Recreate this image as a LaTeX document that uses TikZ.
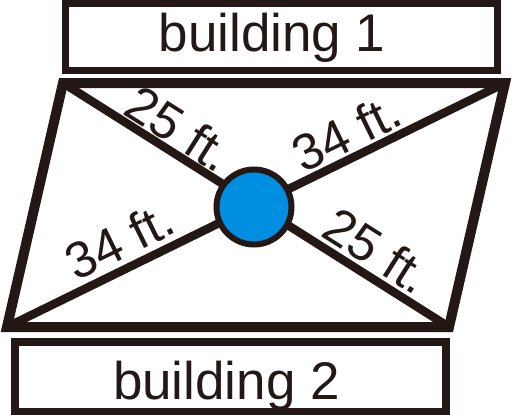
\documentclass[tikz,border=0pt]{standalone}
\usepackage{fontspec}
\setmainfont{Liberation Sans}
\definecolor{ink}{HTML}{231815}
\definecolor{hubblue}{RGB}{0,142,224}
\begin{document}
\begin{tikzpicture}[x=1pt,y=-1pt,
  bldg/.style={draw=ink,line width=7.5pt,rectangle,inner sep=0pt},
  bldgtext/.style={anchor=base,inner sep=0pt,text=ink,font=\fontsize{53}{60}\selectfont},
  frame/.style={draw=ink,line width=10pt,line join=miter},
  diag/.style={draw=ink,line width=8.5pt},
  hub/.style={circle,draw=ink,line width=6pt,fill=hubblue,minimum size=75pt,inner sep=0pt},
  dist/.style={inner sep=0pt,text=ink,font=\fontsize{51}{58}\selectfont}]
\useasboundingbox (0,0) rectangle (512,415);
% buildings
\node[bldg,minimum width=432pt,minimum height=67pt] (b1) at (281.5,37) {};
\node[bldgtext] (t1) at (272,52) {building 1};
\node[bldg,minimum width=431pt,minimum height=69.5pt] (b2) at (230.5,376.75) {};
\node[bldgtext] (t2) at (226.5,399) {building 2};
% plot corners
\coordinate (TL) at (63,83);
\coordinate (TR) at (505,83);
\coordinate (BR) at (449,327);
\coordinate (BL) at (7,327);
% diagonals
\draw[diag] (TL) -- (BR);
\draw[diag] (TR) -- (BL);
% outline
\draw[frame] (TL) -- (TR) -- (BR) -- (BL) -- cycle;
% hub
\node[hub] (hub) at (254,207) {};
% distance labels
\node[dist,rotate=-32.3] (l1) at (179.6,128.5) {25 ft.};
\node[dist,rotate=26.1] (l2) at (346.7,132.3) {34 ft.};
\node[dist,rotate=26.1] (l3) at (119.7,240.3) {34 ft.};
\node[dist,rotate=-32.3] (l4) at (377.6,250.5) {25 ft.};
\end{tikzpicture}
\end{document}
